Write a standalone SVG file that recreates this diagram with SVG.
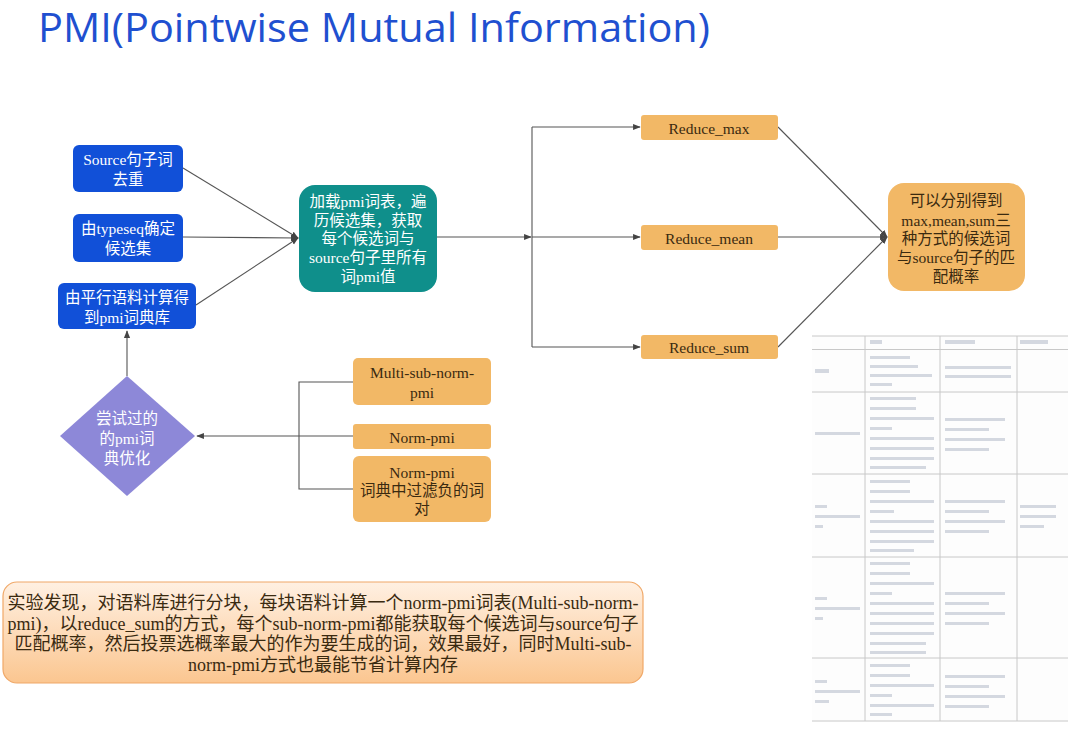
<svg xmlns="http://www.w3.org/2000/svg" width="1080" height="738" viewBox="0 0 1080 738">
<defs>
<style>
.t{font-family:"Liberation Serif","Noto Sans CJK SC",serif;font-size:15.5px;text-anchor:middle;dominant-baseline:central}
.w{fill:#ffffff}
.d{fill:#3a2a10}
.blue{fill:#1150d8}
.orange{fill:#f2b866}
.c{stroke:#555;stroke-width:1.1;fill:none}
.g{stroke:#c8c8c8;stroke-width:1;fill:none}
.p{fill:#d4d8e0}
</style>
<marker id="a" viewBox="0 0 10 10" refX="9" refY="5" markerWidth="7" markerHeight="7" orient="auto">
<path d="M0,1 L10,5 L0,9 z" fill="#444"/>
</marker>
<linearGradient id="ng" x1="0" y1="0" x2="0" y2="1">
<stop offset="0" stop-color="#fff0e2"/>
<stop offset="1" stop-color="#fbc690"/>
</linearGradient>
</defs>
<rect width="1080" height="738" fill="#ffffff"/>
<text x="38" y="42" font-family="'Open Sans','Noto Sans',sans-serif" font-size="40" fill="#1f50d0" textLength="672" lengthAdjust="spacingAndGlyphs">PMI(Pointwise Mutual Information)</text>

<g id="connectors">
<line class="c" x1="183" y1="168" x2="298" y2="238" marker-end="url(#a)"/>
<line class="c" x1="183" y1="237" x2="298" y2="238" marker-end="url(#a)"/>
<line class="c" x1="196" y1="305" x2="298" y2="238" marker-end="url(#a)"/>
<line class="c" x1="437" y1="237" x2="531" y2="237" marker-end="url(#a)"/>
<path class="c" d="M532,127 L532,347"/>
<line class="c" x1="532" y1="127" x2="640" y2="127" marker-end="url(#a)"/>
<line class="c" x1="532" y1="237" x2="640" y2="237" marker-end="url(#a)"/>
<line class="c" x1="532" y1="347" x2="640" y2="347" marker-end="url(#a)"/>
<line class="c" x1="778" y1="127" x2="887" y2="237" marker-end="url(#a)"/>
<line class="c" x1="778" y1="237" x2="887" y2="237" marker-end="url(#a)"/>
<line class="c" x1="778" y1="347" x2="887" y2="237" marker-end="url(#a)"/>
<line class="c" x1="127" y1="376" x2="127" y2="331" marker-end="url(#a)"/>
<path class="c" d="M353,382 L299,382 L299,489 L353,489"/>
<line class="c" x1="353" y1="436" x2="197" y2="436" marker-end="url(#a)"/>
</g>

<g id="n1"><rect class="blue" x="73" y="145" width="110" height="47" rx="6"/>
<text class="t w" x="128" y="159">Source句子词</text><text class="t w" x="128" y="179">去重</text></g>
<g id="n2"><rect class="blue" x="73" y="214" width="110" height="48" rx="6"/>
<text class="t w" x="128" y="228">由typeseq确定</text><text class="t w" x="128" y="248">候选集</text></g>
<g id="n3"><rect class="blue" x="58" y="283" width="138" height="46" rx="6"/>
<text class="t w" x="127" y="297">由平行语料计算得</text><text class="t w" x="127" y="317">到pmi词典库</text></g>

<g id="n4"><rect x="299" y="185" width="138" height="107" rx="16" fill="#0f8f8b"/>
<text class="t w" x="368" y="201">加载pmi词表，遍</text>
<text class="t w" x="368" y="220">历候选集，获取</text>
<text class="t w" x="368" y="238">每个候选词与</text>
<text class="t w" x="368" y="257">source句子里所有</text>
<text class="t w" x="368" y="276">词pmi值</text></g>

<g id="n5"><rect class="orange" x="641" y="115" width="137" height="25" rx="3"/>
<text class="t d" x="709" y="128">Reduce_max</text></g>
<g id="n6"><rect class="orange" x="641" y="225" width="137" height="25" rx="3"/>
<text class="t d" x="709" y="238">Reduce_mean</text></g>
<g id="n7"><rect class="orange" x="641" y="335" width="137" height="24" rx="3"/>
<text class="t d" x="709" y="347">Reduce_sum</text></g>

<g id="n8"><rect class="orange" x="888" y="183" width="137" height="108" rx="16"/>
<text class="t d" x="956" y="200">可以分别得到</text>
<text class="t d" x="956" y="220">max,mean,sum三</text>
<text class="t d" x="956" y="238">种方式的候选词</text>
<text class="t d" x="956" y="257">与source句子的匹</text>
<text class="t d" x="956" y="276">配概率</text></g>

<g id="n9"><polygon points="127,376 195,436 127,496 60,436" fill="#8d88d8"/>
<text class="t w" x="127" y="418">尝试过的</text>
<text class="t w" x="127" y="438">的pmi词</text>
<text class="t w" x="127" y="458">典优化</text></g>

<g id="n10"><rect class="orange" x="353" y="358" width="138" height="47" rx="5"/>
<text class="t d" x="422" y="372">Multi-sub-norm-</text><text class="t d" x="422" y="392">pmi</text></g>
<g id="n11"><rect class="orange" x="353" y="424" width="138" height="25" rx="3"/>
<text class="t d" x="422" y="437">Norm-pmi</text></g>
<g id="n12"><rect class="orange" x="353" y="456" width="138" height="66" rx="6"/>
<text class="t d" x="422" y="472">Norm-pmi</text><text class="t d" x="422" y="490">词典中过滤负的词</text><text class="t d" x="422" y="508">对</text></g>

<g id="note"><rect x="3" y="582" width="640" height="101" rx="14" fill="url(#ng)" stroke="#f0a868" stroke-width="1.2"/>
<g class="t d" style="font-size:18px">
<text x="323" y="603">实验发现，对语料库进行分块，每块语料计算一个norm-pmi词表(Multi-sub-norm-</text>
<text x="323" y="624">pmi)，以reduce_sum的方式，每个sub-norm-pmi都能获取每个候选词与source句子</text>
<text x="323" y="644">匹配概率，然后投票选概率最大的作为要生成的词，效果最好，同时Multi-sub-</text>
<text x="323" y="665">norm-pmi方式也最能节省计算内存</text>
</g></g>

<g id="table">
<rect x="812" y="336" width="256" height="385" fill="#fdfdfd"/>
<path class="g" d="M812,336 H1068 M812,349.5 H1068 M812,392 H1068 M812,474 H1068 M812,557 H1068 M812,658 H1068 M812,721 H1068 M865,336 V721 M940,336 V721 M1017,336 V721"/>
<rect class="p" x="870" y="340" width="12" height="4"/><rect class="p" x="945" y="340" width="30" height="4"/><rect class="p" x="1020" y="340" width="28" height="4"/>
<rect class="p" x="815" y="369" width="14" height="4"/>
<rect class="p" x="870" y="356" width="40" height="3"/><rect class="p" x="870" y="365" width="48" height="3"/><rect class="p" x="870" y="374" width="62" height="3"/><rect class="p" x="870" y="383" width="22" height="3"/>
<rect class="p" x="945" y="366" width="66" height="3"/><rect class="p" x="945" y="375" width="66" height="3"/>
<rect class="p" x="815" y="432" width="45" height="3"/>
<rect class="p" x="870" y="397" width="46" height="3"/><rect class="p" x="870" y="407" width="46" height="3"/><rect class="p" x="870" y="417" width="64" height="3"/><rect class="p" x="870" y="427" width="22" height="3"/><rect class="p" x="870" y="437" width="64" height="3"/><rect class="p" x="870" y="447" width="64" height="3"/><rect class="p" x="870" y="457" width="64" height="3"/><rect class="p" x="870" y="466" width="56" height="3"/>
<rect class="p" x="945" y="418" width="60" height="3"/><rect class="p" x="945" y="428" width="44" height="3"/><rect class="p" x="945" y="438" width="60" height="3"/><rect class="p" x="945" y="448" width="44" height="3"/>
<rect class="p" x="815" y="505" width="12" height="3"/><rect class="p" x="815" y="515" width="45" height="3"/><rect class="p" x="815" y="525" width="8" height="3"/>
<rect class="p" x="870" y="480" width="40" height="3"/><rect class="p" x="870" y="490" width="40" height="3"/><rect class="p" x="870" y="500" width="64" height="3"/><rect class="p" x="870" y="510" width="24" height="3"/><rect class="p" x="870" y="520" width="64" height="3"/><rect class="p" x="870" y="530" width="64" height="3"/><rect class="p" x="870" y="540" width="64" height="3"/><rect class="p" x="870" y="549" width="44" height="3"/>
<rect class="p" x="945" y="500" width="60" height="3"/><rect class="p" x="945" y="510" width="44" height="3"/><rect class="p" x="945" y="520" width="60" height="3"/><rect class="p" x="945" y="530" width="44" height="3"/>
<rect class="p" x="1020" y="505" width="36" height="3"/><rect class="p" x="1020" y="515" width="36" height="3"/><rect class="p" x="1020" y="525" width="24" height="3"/>
<rect class="p" x="815" y="597" width="12" height="3"/><rect class="p" x="815" y="607" width="45" height="3"/><rect class="p" x="815" y="617" width="8" height="3"/>
<rect class="p" x="870" y="562" width="40" height="3"/><rect class="p" x="870" y="572" width="40" height="3"/><rect class="p" x="870" y="582" width="64" height="3"/><rect class="p" x="870" y="592" width="22" height="3"/><rect class="p" x="870" y="602" width="64" height="3"/><rect class="p" x="870" y="612" width="64" height="3"/><rect class="p" x="870" y="622" width="64" height="3"/><rect class="p" x="870" y="632" width="64" height="3"/><rect class="p" x="870" y="642" width="56" height="3"/><rect class="p" x="870" y="651" width="56" height="3"/>
<rect class="p" x="945" y="592" width="60" height="3"/><rect class="p" x="945" y="602" width="44" height="3"/><rect class="p" x="945" y="612" width="60" height="3"/><rect class="p" x="945" y="622" width="44" height="3"/>
<rect class="p" x="815" y="680" width="12" height="3"/><rect class="p" x="815" y="690" width="45" height="3"/><rect class="p" x="815" y="700" width="14" height="3"/>
<rect class="p" x="870" y="664" width="40" height="3"/><rect class="p" x="870" y="674" width="40" height="3"/><rect class="p" x="870" y="684" width="64" height="3"/><rect class="p" x="870" y="694" width="22" height="3"/><rect class="p" x="870" y="704" width="64" height="3"/><rect class="p" x="870" y="713" width="22" height="3"/>
<rect class="p" x="945" y="675" width="60" height="3"/><rect class="p" x="945" y="705" width="44" height="3"/><rect class="p" x="945" y="685" width="44" height="3"/><rect class="p" x="945" y="695" width="60" height="3"/>
</g>
</svg>
